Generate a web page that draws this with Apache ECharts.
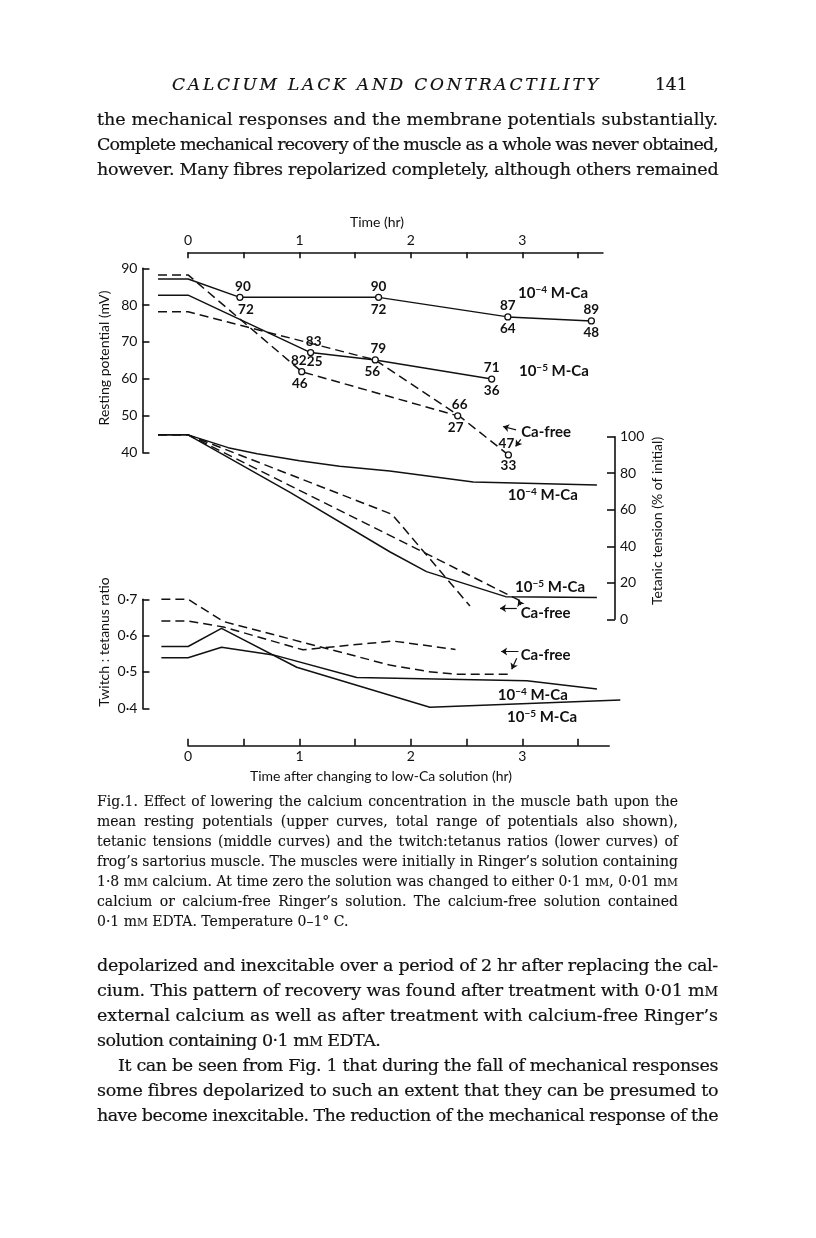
<!DOCTYPE html>
<html><head><meta charset="utf-8">
<script src="https://cdn.jsdelivr.net/npm/echarts@6/dist/echarts.min.js"></script>
<style>
html,body{margin:0;padding:0;background:#fff;}
#page{position:relative;width:816px;height:1238px;overflow:hidden;background:#fff;}
#chart{position:absolute;left:0;top:0;width:816px;height:1238px;}
.ln{position:absolute;white-space:nowrap;font-family:"DejaVu Serif","Liberation Serif",serif;color:#111;z-index:2;-webkit-text-stroke:0.2px #111;}
.ln span{white-space:nowrap;}
.body{font-size:17.5px;line-height:22px;}
.cap{font-size:14px;line-height:18px;-webkit-text-stroke:0.1px #111;}
.hdr{font-size:17px;line-height:22px;font-style:italic;}
.sc{font-size:0.76em;}
</style></head>
<body><div id="page"><div id="chart"></div></div>
<script>
// ---------------- DATA ----------------
// Axis ticks
const topTicks = [0, 0.5, 1, 1.5, 2, 2.5, 3, 3.5];
const topTickLabels = [0, 1, 2, 3];
const bottomTicks = [0, 0.5, 1, 1.5, 2, 2.5, 3, 3.5];
const bottomTickLabels = [0, 1, 2, 3];
const restTicks = [40, 50, 60, 70, 80, 90];
const tensionTicks = [0, 20, 40, 60, 80, 100];
const ratioTicks = [0.4, 0.5, 0.6, 0.7];

// Resting potential (mV): mean curves, with total range (max / min) at measured points
const rest4T   = [-0.27, 0, 0.465, 1.71, 2.87, 3.62];
const rest4V   = [87.1, 87.1, 82.1, 82.1, 76.8, 75.7];
const rest4Max = [null, null, 90, 90, 87, 89];
const rest4Min = [null, null, 72, 72, 64, 48];

const rest5T   = [-0.27, 0, 1.10, 1.68, 2.725];
const rest5V   = [82.7, 82.7, 67.1, 65.1, 59.9];
const rest5Max = [null, null, 83, 79, 71];
const rest5Min = [null, null, 25, 56, 36];

const restFreeAT   = [-0.27, 0, 1.02, 2.42];
const restFreeAV   = [88.2, 88.2, 61.9, 49.9];
const restFreeAMax = [null, null, 82, 66];
const restFreeAMin = [null, null, 46, 27];

const restFreeBT   = [-0.27, 0, 1.68, 2.42, 2.875];
const restFreeBV   = [78.2, 78.2, 65.1, 50.2, 39.3];
const restFreeBMax = [null, null, null, null, 47];
const restFreeBMin = [null, null, null, null, 33];

// Tetanic tension (% of initial)
const ten4T = [-0.27, 0, 0.36, 0.62, 1.0, 1.36, 1.81, 2.56, 3.67];
const ten4V = [101, 101, 94, 90.7, 86.8, 83.8, 81.2, 75.2, 73.6];
const ten5T = [-0.27, 0, 0.915, 1.81, 2.14, 2.85, 3.67];
const ten5V = [101, 101, 69.5, 37.0, 26.1, 12.4, 12.0];
const tenFreeAT = [-0.27, 0, 1.83, 2.53];
const tenFreeAV = [101, 101, 57.5, 7.3];
const tenFreeBT = [-0.27, 0, 1.81, 2.98];
const tenFreeBV = [101, 101, 46.0, 10.2];

// Twitch : tetanus ratio
const ratio4T = [-0.24, 0, 0.30, 0.765, 1.514, 3.04, 3.67];
const ratio4V = [0.539, 0.539, 0.568, 0.547, 0.485, 0.476, 0.453];
const ratio5T = [-0.24, 0, 0.30, 0.975, 2.17, 3.88];
const ratio5V = [0.570, 0.570, 0.620, 0.513, 0.403, 0.423];
const ratioFreeAT = [-0.24, 0, 0.316, 1.81, 2.157, 2.41, 2.875];
const ratioFreeAV = [0.700, 0.700, 0.639, 0.519, 0.501, 0.494, 0.494];
const ratioFreeBT = [-0.24, 0, 0.316, 1.03, 1.63, 1.84, 2.40];
const ratioFreeBV = [0.640, 0.640, 0.624, 0.561, 0.579, 0.585, 0.562];

// ---------------- PAGE TEXT ----------------
const SC = '<span class="sc">M</span>';
const pageLines = [
  {cls:'hdr', x:172, y:86, w:426, fit:'letter', html:'CALCIUM LACK AND CONTRACTILITY'},
  {cls:'hdr', x:655, y:86, w:27, fit:'none', html:'<span style="font-style:normal">141</span>'},
  {cls:'body', x:97, y:122, w:621, fit:'word', html:'the mechanical responses and the membrane potentials substantially.'},
  {cls:'body', x:97, y:147, w:621, fit:'word', html:'Complete mechanical recovery of the muscle as a whole was never obtained,'},
  {cls:'body', x:97, y:172, w:621, fit:'word', html:'however. Many fibres repolarized completely, although others remained'},
  {cls:'cap', x:97, y:803, w:581, fit:'word', html:'Fig.1. Effect of lowering the calcium concentration in the muscle bath upon the'},
  {cls:'cap', x:97, y:823, w:581, fit:'word', html:'mean resting potentials (upper curves, total range of potentials also shown),'},
  {cls:'cap', x:97, y:843, w:581, fit:'word', html:'tetanic tensions (middle curves) and the twitch:tetanus ratios (lower curves) of'},
  {cls:'cap', x:97, y:863, w:581, fit:'word', html:'frog\u2019s sartorius muscle. The muscles were initially in Ringer\u2019s solution containing'},
  {cls:'cap', x:97, y:883, w:581, fit:'word', html:'1\u00b78 m'+SC+' calcium. At time zero the solution was changed to either 0\u00b71 m'+SC+', 0\u00b701 m'+SC},
  {cls:'cap', x:97, y:903, w:581, fit:'word', html:'calcium or calcium-free Ringer\u2019s solution. The calcium-free solution contained'},
  {cls:'cap', x:97, y:923, w:581, fit:'none', html:'0\u00b71 m'+SC+' EDTA. Temperature 0\u20131\u00b0 C.'},
  {cls:'body', x:97, y:968, w:621, fit:'word', html:'depolarized and inexcitable over a period of 2 hr after replacing the cal-'},
  {cls:'body', x:97, y:993, w:621, fit:'word', html:'cium. This pattern of recovery was found after treatment with 0\u00b701 m'+SC},
  {cls:'body', x:97, y:1018, w:621, fit:'word', html:'external calcium as well as after treatment with calcium-free Ringer\u2019s'},
  {cls:'body', x:97, y:1043, w:621, fit:'none', html:'solution containing 0\u00b71 m'+SC+' EDTA.'},
  {cls:'body', x:118, y:1068, w:600, fit:'word', html:'It can be seen from Fig. 1 that during the fall of mechanical responses'},
  {cls:'body', x:97, y:1093, w:621, fit:'word', html:'some fibres depolarized to such an extent that they can be presumed to'},
  {cls:'body', x:97, y:1118, w:621, fit:'word', html:'have become inexcitable. The reduction of the mechanical response of the'}
];
const page = document.getElementById('page');
const fsz = {hdr:17, body:17.5, cap:14};
pageLines.forEach(L => {
  const d = document.createElement('div');
  d.className = 'ln ' + L.cls;
  d.style.left = L.x + 'px';
  d.style.top = (L.y - 0.78 * fsz[L.cls]) + 'px';
  d.innerHTML = '<span>' + L.html + '</span>';
  page.appendChild(d);
  const sp = d.firstChild;
  const nat = sp.getBoundingClientRect().width;
  const chars = sp.textContent.length;
  if (L.fit === 'word') {
    const n = (sp.textContent.match(/ /g) || []).length;
    const extra = L.w - nat;
    if (extra < 0) sp.style.letterSpacing = (extra / chars) + 'px';
    else if (n) sp.style.wordSpacing = (extra / n) + 'px';
  } else if (L.fit === 'letter') {
    sp.style.letterSpacing = ((L.w - nat) / (chars - 1)) + 'px';
  } else if (L.cls === 'body') {
    sp.style.letterSpacing = '-0.55px';
  }
});

// ---------------- CHART ----------------
const INK = '#111';
const FONT = 'Lato, "Open Sans", sans-serif';
const X0 = 188.1, PX = 111.4;          // layout: x pixel of t=0 and pixels per hour
function gx(tmin, tmax) { return {left: X0 + tmin * PX, width: (tmax - tmin) * PX}; }
const G = [
  Object.assign(gx(0, 3.724),   {top: 252.3, height: 4}),      // top time axis
  Object.assign(gx(-0.41, 4.0), {top: 268.3, height: 184}),    // resting potential
  Object.assign(gx(-0.41, 3.832), {top: 436.7, height: 182.6}),// tetanic tension
  Object.assign(gx(-0.41, 4.0), {top: 599.3, height: 109}),    // twitch:tetanus
  Object.assign(gx(0, 3.78),    {top: 741.7, height: 4})       // bottom time axis
];
const XR = [[0, 3.724], [-0.41, 4.0], [-0.41, 3.832], [-0.41, 4.0], [0, 3.78]];

const pairs = (T, V) => T.map((t, i) => [t, V[i]]);
const txt = {color: INK, fontFamily: FONT, fontSize: 14};
const axLine = {show: true, onZero: false, lineStyle: {color: INK, width: 1.6}};
const noBorder = {textBorderWidth: 0, textBorderColor: 'transparent', textShadowBlur: 0, opacity: 1};
const clearItem = {color: 'rgba(255,255,255,0)', opacity: 1};

function lineS(gi, T, V, dashed) {
  return {type: 'line', xAxisIndex: gi, yAxisIndex: gi, data: pairs(T, V), symbol: 'none',
    clip: false, silent: true, z: 2,
    lineStyle: {color: INK, width: 1.5, opacity: 1, type: dashed ? [9, 5] : 'solid'}};
}
// open circles with range numbers above (max) and below (min)
function rangeS(gi, T, V, Max, Min, nud) {
  const top = [], bot = [];
  T.forEach((t, i) => {
    if (Max[i] == null) return;
    const n = (nud && nud[i]) || [0, 0, 12];
    top.push({value: [t, V[i]], label: {formatter: String(Max[i]), offset: [n[0], -11]}});
    bot.push({value: [t, V[i]], label: {formatter: String(Min[i]), offset: [n[1], n[2]]}});
  });
  const lab = Object.assign({show: true, position: ['50%', '50%'], align: 'center', verticalAlign: 'middle'},
    txt, noBorder, {fontSize: 13.5, fontWeight: 'bold'});
  return [
    {type: 'scatter', xAxisIndex: gi, yAxisIndex: gi, data: top, symbol: 'circle', symbolSize: 6,
      clip: false, silent: true, z: 5,
      itemStyle: {color: '#fff', borderColor: INK, borderWidth: 1.3, opacity: 1}, label: lab},
    {type: 'scatter', xAxisIndex: gi, yAxisIndex: gi, data: bot, symbol: 'circle', symbolSize: 1,
      clip: false, silent: true, z: 5, itemStyle: clearItem, label: lab}
  ];
}
// text annotations anchored in data coordinates (left edge, vertical middle)
function noteS(gi, items) {
  return {type: 'scatter', xAxisIndex: gi, yAxisIndex: gi, symbol: 'circle', symbolSize: 1,
    clip: false, silent: true, z: 6, itemStyle: clearItem,
    data: items.map(it => ({value: [it[0], it[1]], label: {formatter: it[2]}})),
    label: Object.assign({show: true, position: ['50%', '50%'], align: 'left', verticalAlign: 'middle',
      lineHeight: 16,
      rich: {s: Object.assign({fontSize: 10, lineHeight: 16, verticalAlign: 'top', color: INK, fontFamily: FONT, fontWeight: 'bold'}, noBorder)}},
      txt, noBorder, {fontSize: 15, fontWeight: 'bold'})};
}
function arrowS(gi, segs) {
  return {type: 'lines', coordinateSystem: 'cartesian2d', xAxisIndex: gi, yAxisIndex: gi,
    silent: true, z: 6, symbol: ['none', 'arrow'], symbolSize: 6,
    lineStyle: {color: INK, width: 1.2, opacity: 1},
    data: segs.map(s => ({coords: [[s[0], s[1]], [s[2], s[3]]]}))};
}
const M4 = '10{s|\u22124} M-Ca', M5 = '10{s|\u22125} M-Ca';

const series = [].concat(
  lineS(1, rest4T, rest4V, false), lineS(1, rest5T, rest5V, false),
  lineS(1, restFreeAT, restFreeAV, true), lineS(1, restFreeBT, restFreeBV, true),
  rangeS(1, rest4T, rest4V, rest4Max, rest4Min, {2: [3, 6, 12]}),
  rangeS(1, rest5T, rest5V, rest5Max, rest5Min, {2: [3, 4, 9.5], 3: [3, -3, 12]}),
  rangeS(1, restFreeAT, restFreeAV, restFreeAMax, restFreeAMin, {2: [-3, -2, 12], 3: [2, -2, 11.5]}),
  rangeS(1, restFreeBT, restFreeBV, restFreeBMax, restFreeBMin, {4: [-2, 0, 11]}),
  noteS(1, [[2.962, 83.3, M4], [2.97, 62.1, M5], [2.99, 45.6, 'Ca-free']]),
  arrowS(1, [[2.944, 46.1, 2.827, 47.0], [2.986, 43.5, 2.94, 41.6]]),

  lineS(2, ten4T, ten4V, false), lineS(2, ten5T, ten5V, false),
  lineS(2, tenFreeAT, tenFreeAV, true), lineS(2, tenFreeBT, tenFreeBV, true),
  noteS(2, [[2.87, 68.0, M4], [2.935, 17.7, M5], [2.985, 3.5, 'Ca-free']]),
  arrowS(2, [[2.95, 6.0, 2.80, 6.0], [2.986, 7.8, 2.965, 10.5]]),

  lineS(3, ratio4T, ratio4V, false), lineS(3, ratio5T, ratio5V, false),
  lineS(3, ratioFreeAT, ratioFreeAV, true), lineS(3, ratioFreeBT, ratioFreeBV, true),
  noteS(3, [[2.78, 0.4366, M4], [2.863, 0.377, M5], [2.985, 0.5468, 'Ca-free']]),
  arrowS(3, [[2.965, 0.556, 2.81, 0.556], [2.95, 0.5377, 2.905, 0.5074]])
);

const hiddenX = i => ({gridIndex: i, type: 'value', min: XR[i][0], max: XR[i][1], show: false});
const option = {
  animation: false,
  backgroundColor: 'transparent',
  grid: G.map(g => Object.assign({outerBoundsMode: 'none', containLabel: false}, g)),
  xAxis: [
    {gridIndex: 0, type: 'value', min: XR[0][0], max: XR[0][1], position: 'top',
      axisLine: axLine, splitLine: {show: false},
      axisTick: {show: true, inside: true, length: 6, customValues: topTicks, lineStyle: {color: INK, width: 1.6}},
      axisLabel: Object.assign({show: true, margin: 5, customValues: topTickLabels}, txt)},
    hiddenX(1), hiddenX(2), hiddenX(3),
    {gridIndex: 4, type: 'value', min: XR[4][0], max: XR[4][1], position: 'bottom',
      axisLine: axLine, splitLine: {show: false},
      axisTick: {show: true, inside: true, length: 7, customValues: bottomTicks, lineStyle: {color: INK, width: 1.6}},
      axisLabel: Object.assign({show: true, margin: 4, customValues: bottomTickLabels}, txt)}
  ],
  yAxis: [
    {gridIndex: 0, type: 'value', show: false, min: 0, max: 1},
    {gridIndex: 1, type: 'value', min: 40, max: 90, position: 'left',
      axisLine: axLine, splitLine: {show: false},
      axisTick: {show: true, inside: true, length: 7, customValues: restTicks, lineStyle: {color: INK, width: 1.6}},
      axisLabel: Object.assign({margin: 5, customValues: restTicks}, txt)},
    {gridIndex: 2, type: 'value', min: 0, max: 100, position: 'right',
      axisLine: axLine, splitLine: {show: false},
      axisTick: {show: true, inside: true, length: 8, customValues: tensionTicks, lineStyle: {color: INK, width: 1.6}},
      axisLabel: Object.assign({margin: 5, customValues: tensionTicks}, txt)},
    {gridIndex: 3, type: 'value', min: 0.4, max: 0.7, position: 'left',
      axisLine: axLine, splitLine: {show: false},
      axisTick: {show: true, inside: true, length: 7, customValues: ratioTicks, lineStyle: {color: INK, width: 1.6}},
      axisLabel: Object.assign({margin: 5, customValues: ratioTicks,
        formatter: v => v.toFixed(1).replace('.', '\u00b7')}, txt)},
    {gridIndex: 4, type: 'value', show: false, min: 0, max: 1}
  ],
  graphic: [
    {type: 'text', x: 377, y: 222, style: {text: 'Time (hr)', align: 'center', verticalAlign: 'middle', fill: INK, fontSize: 14, fontFamily: FONT}},
    {type: 'text', x: 381, y: 776, style: {text: 'Time after changing to low-Ca solution (hr)', align: 'center', verticalAlign: 'middle', fill: INK, fontSize: 14, fontFamily: FONT}},
    {type: 'text', x: 104, y: 358, rotation: Math.PI / 2, style: {text: 'Resting potential (mV)', align: 'center', verticalAlign: 'middle', fill: INK, fontSize: 14, fontFamily: FONT}},
    {type: 'text', x: 104, y: 642, rotation: Math.PI / 2, style: {text: 'Twitch : tetanus ratio', align: 'center', verticalAlign: 'middle', fill: INK, fontSize: 14, fontFamily: FONT}},
    {type: 'text', x: 657, y: 521, rotation: Math.PI / 2, style: {text: 'Tetanic tension (% of initial)', align: 'center', verticalAlign: 'middle', fill: INK, fontSize: 14, fontFamily: FONT}}
  ],
  series: series
};
const chart = echarts.init(document.getElementById('chart'), null, {renderer: 'canvas'});
chart.setOption(option);
</script></body></html>
